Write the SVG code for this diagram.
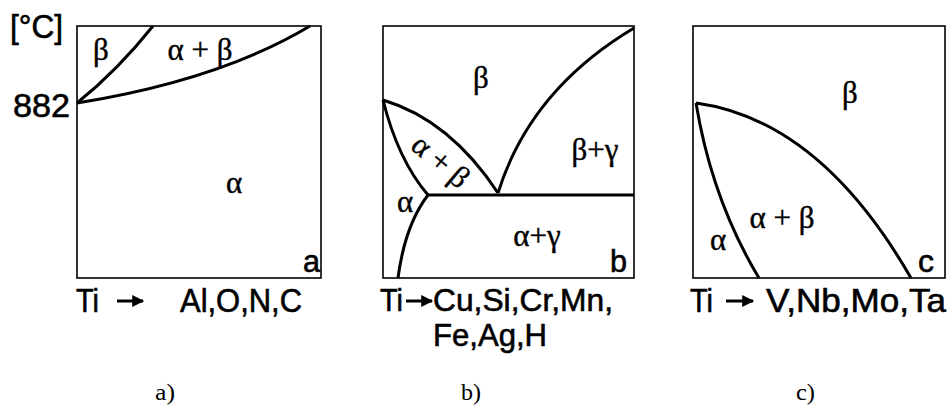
<svg xmlns="http://www.w3.org/2000/svg" width="952" height="410" viewBox="0 0 952 410">
<defs>
<marker id="ah" viewBox="0 0 10 10" refX="9" refY="5" markerWidth="4.5" markerHeight="4" orient="auto" markerUnits="strokeWidth"><path d="M0,0 L10,5 L0,10 Z" fill="#000"/></marker>
</defs>
<style>
.box{fill:#fff;stroke:#000;stroke-width:1.6}
.ln{fill:none;stroke:#000;stroke-width:3}
.sans{font-family:"Liberation Sans",Arial,sans-serif;fill:#000;stroke:#000;stroke-width:0.6}
.gr{font-family:"Liberation Serif","DejaVu Serif",serif;fill:#000;stroke:#000;stroke-width:0.4;text-anchor:middle;font-size:31px}
.cap{font-family:"Liberation Serif",serif;font-size:24px;fill:#000}
.arr{stroke:#000;stroke-width:3;fill:none}
</style>
<rect width="952" height="410" fill="#fff"/>
<g id="panel-a">
<rect class="box" x="77" y="26" width="244" height="252"/>
<text class="sans" x="10" y="38" font-size="33" textLength="53" lengthAdjust="spacingAndGlyphs">[°C]</text>
<text class="sans" x="13" y="117" font-size="33" textLength="57" lengthAdjust="spacingAndGlyphs">882</text>
<path class="ln" d="M77,103 Q118,70 153,26"/>
<path class="ln" d="M77,103 Q220,80 310,26"/>
<text class="gr" x="101" y="60">β</text>
<text class="gr" x="200" y="60">α + β</text>
<text class="gr" x="234" y="193">α</text>
<text class="sans" x="303" y="272" font-size="32" textLength="17" lengthAdjust="spacingAndGlyphs">a</text>
</g>
<g id="panel-b">
<rect class="box" x="383" y="26" width="251" height="252"/>
<path class="ln" d="M383,100 Q398,160 428,195"/>
<path class="ln" d="M383,100 Q450,120 498,193"/>
<path class="ln" d="M498,193 Q530,90 634,28"/>
<path class="ln" d="M428,195 L634,195"/>
<path class="ln" d="M428,195 Q405,225 398,278"/>
<text class="gr" x="481" y="88">β</text>
<text class="gr" x="595" y="160">β+γ</text>
<text class="gr" x="440" y="171" transform="rotate(40 440 162)">α + β</text>
<text class="gr" x="405" y="212">α</text>
<text class="gr" x="537" y="246">α+γ</text>
<text class="sans" x="610" y="272" font-size="32" textLength="17" lengthAdjust="spacingAndGlyphs">b</text>
</g>
<g id="panel-c">
<rect class="box" x="693" y="26" width="252" height="252"/>
<path class="ln" d="M696,103 Q712,200 759,278"/>
<path class="ln" d="M696,103 Q820,120 911,278"/>
<text class="gr" x="850" y="103">β</text>
<text class="gr" x="782" y="228">α + β</text>
<text class="gr" x="718" y="250">α</text>
<text class="sans" x="918" y="272" font-size="32" textLength="16" lengthAdjust="spacingAndGlyphs">c</text>
</g>
<g id="labels">
<text class="sans" x="76" y="312" font-size="33" textLength="23" lengthAdjust="spacingAndGlyphs">Ti</text>
<text class="sans" x="180" y="312" font-size="33" textLength="122" lengthAdjust="spacingAndGlyphs">Al,O,N,C</text>
<text class="sans" x="380" y="311" font-size="32" textLength="23" lengthAdjust="spacingAndGlyphs">Ti</text>
<text class="sans" x="433" y="311" font-size="32" textLength="180" lengthAdjust="spacingAndGlyphs">Cu,Si,Cr,Mn,</text>
<text class="sans" x="433" y="346" font-size="32" textLength="114" lengthAdjust="spacingAndGlyphs">Fe,Ag,H</text>
<text class="sans" x="690" y="312" font-size="33" textLength="23" lengthAdjust="spacingAndGlyphs">Ti</text>
<text class="sans" x="766" y="312" font-size="33" textLength="180" lengthAdjust="spacingAndGlyphs">V,Nb,Mo,Ta</text>
<text class="cap" x="155" y="400" textLength="20" lengthAdjust="spacingAndGlyphs">a)</text>
<text class="cap" x="461" y="400" textLength="20" lengthAdjust="spacingAndGlyphs">b)</text>
<text class="cap" x="796" y="400" textLength="19" lengthAdjust="spacingAndGlyphs">c)</text>
</g>
<g id="connectors">
<line class="arr" x1="117" y1="301" x2="143" y2="301" marker-end="url(#ah)"/>
<line class="arr" x1="406" y1="301" x2="432" y2="301" marker-end="url(#ah)"/>
<line class="arr" x1="726" y1="301" x2="753" y2="301" marker-end="url(#ah)"/>
</g>
</svg>
